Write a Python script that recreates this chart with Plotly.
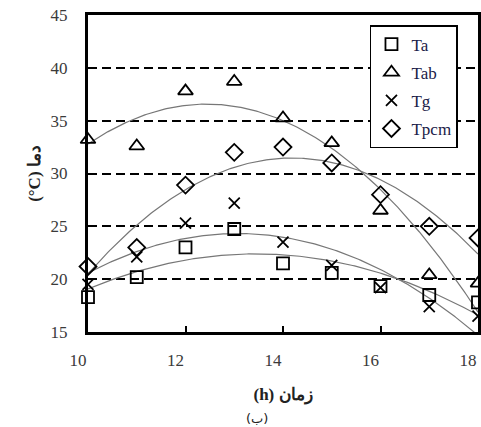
import numpy as np
import plotly.graph_objects as go

hours = [10, 11, 12, 13, 14, 15, 16, 17, 18]
ta = [18.3, 20.2, 23.0, 24.75, 21.5, 20.6, 19.35, 18.5, 17.8]
tab = [33.2, 32.6, 37.8, 38.7, 35.25, 32.9, 26.5, 20.4, 19.6]
tg = [19.5, 22.1, 25.3, 27.2, 23.5, 21.3, 19.2, 17.4, 16.5]
tpcm = [21.2, 23.0, 28.9, 32.0, 32.5, 31.0, 28.0, 25.0, 23.9]

series = [
    ("Ta", ta, "square-open", 12),
    ("Tab", tab, "triangle-up-open", 13),
    ("Tg", tg, "x-thin-open", 11),
    ("Tpcm", tpcm, "diamond-open", 13),
]

fig = go.Figure()

# quadratic trend lines (least-squares fit of each series)
xs = np.linspace(hours[0], hours[-1], 200)
for name, vals, sym, sz in series:
    coef = np.polyfit(hours, vals, 2)
    fig.add_trace(go.Scatter(
        x=xs, y=np.polyval(coef, xs), mode="lines",
        line=dict(color="#777777", width=1.2),
        showlegend=False, hoverinfo="skip"))

for i, (name, vals, sym, sz) in enumerate(series):
    fig.add_trace(go.Scatter(
        x=hours, y=vals, mode="markers", name=name, legendgroup=name,
        marker=dict(symbol=sym, size=sz, color="black",
                    line=dict(color="black", width=1.8)),
        cliponaxis=False))

serif = "Times New Roman, Liberation Serif, DejaVu Serif, serif"
tick_font = dict(family=serif, size=17, color="#3a3a3a")
bold_font = dict(family=serif, size=17, color="#222222")

fig.update_layout(
    width=481, height=427,
    margin=dict(l=88, r=3, t=15, b=95, autoexpand=False),
    plot_bgcolor="white", paper_bgcolor="white",
    font=dict(family=serif, size=17, color="#3a3a3a"),
    showlegend=True,
    legend=dict(
        x=0.723, y=0.968, xanchor="left", yanchor="top",
        bgcolor="white", bordercolor="black", borderwidth=1.5,
        font=dict(family=serif, size=17, color="#202048"),
        tracegroupgap=3,
    ),
    xaxis=dict(
        range=[10, 18], dtick=2, tick0=10, automargin=False,
        showline=True, linewidth=3, linecolor="black", mirror=True,
        ticks="inside", ticklen=6, tickwidth=1.5, tickcolor="black",
        showgrid=False, zeroline=False, tickfont=tick_font,
        ticklabelshift=-10, ticklabelstandoff=11,
        title=dict(text="<b>(h) زمان</b>", standoff=19, font=bold_font),
    ),
    yaxis=dict(
        range=[15, 45], dtick=5, automargin=False,
        showline=True, linewidth=3, linecolor="black", mirror=True,
        ticks="inside", ticklen=6, tickwidth=1.5, tickcolor="black",
        showgrid=True, gridcolor="black", gridwidth=1.8, griddash="9px,5px",
        zeroline=False, ticklabelstandoff=14, tickfont=tick_font,
        title=dict(text="<b>(°C) دما</b>", standoff=6, font=bold_font),
    ),
    annotations=[dict(
        text="(ب)", xref="paper", yref="paper", x=(257 - 88) / 390,
        y=-(418 - 332) / 317, xanchor="center", yanchor="middle",
        showarrow=False, font=dict(family="DejaVu Sans", size=13, color="#222222"))],
)

fig.write_html("out.html", config={"displayModeBar": False},
               post_script="document.body.style.margin='0';")
